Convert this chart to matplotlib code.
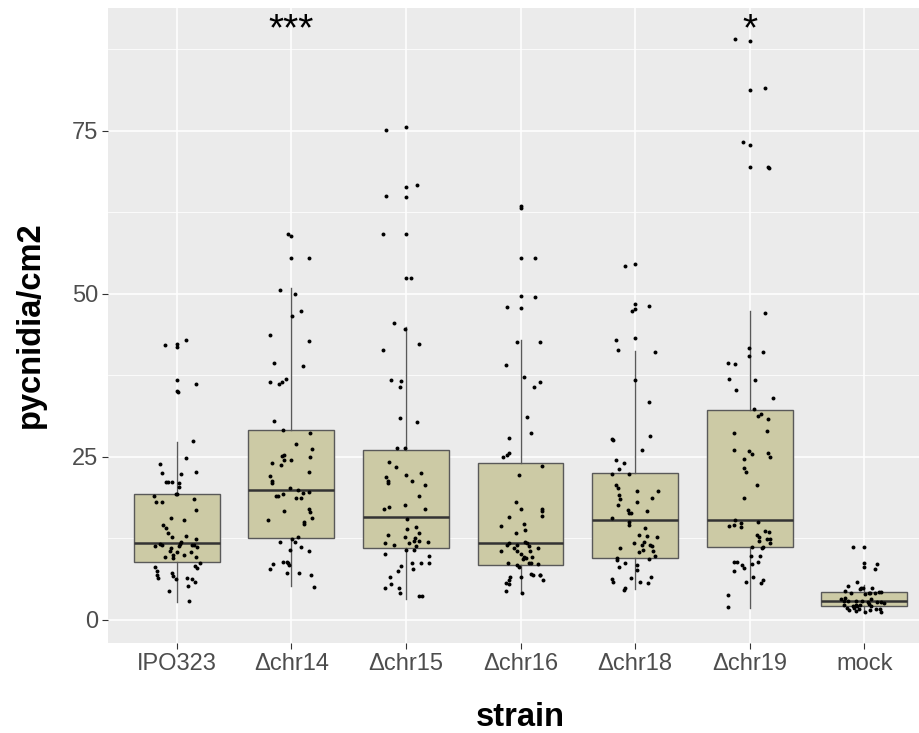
import matplotlib
matplotlib.use("Agg")
import matplotlib.pyplot as plt
from matplotlib.ticker import MultipleLocator

plt.rcParams["font.family"] = ["Liberation Sans", "DejaVu Sans"]

# strain names on the x axis
strains = ["IPO323", "\u0394chr14", "\u0394chr15", "\u0394chr16", "\u0394chr18", "\u0394chr19", "mock"]

# box statistics (lower whisker, Q1, median, Q3, upper whisker)
whis_lo = [2.7, 5.2, 3.2, 4.1, 4.7, 1.7, 1.3]
q1 = [8.8, 12.5, 10.9, 8.4, 9.5, 11.2, 2.1]
median = [11.7, 19.9, 15.7, 11.8, 15.2, 15.2, 2.85]
q3 = [19.3, 29.1, 26.0, 24.0, 22.4, 32.1, 4.2]
whis_hi = [27.2, 50.8, 44.9, 42.8, 41.2, 47.3, 5.3]

# significance marks above the boxes
stars = ["", "***", "", "", "", "*", ""]

# jittered points: horizontal offset from the strain centre and pycnidia/cm2 value
ipo_dx = [-0.105, 0.0, 0.0, 0.08, 0.0, 0.0, 0.01, 0.17, 0.14, 0.08, -0.15, -0.13, 0.04, 0.17,
          -0.09, -0.08, -0.04, 0.02, 0.02, -0.01, 0.0, -0.2, -0.18, -0.13, 0.15, 0.17, -0.05, 0.06,
          -0.12, -0.09, -0.08, -0.04, 0.08, 0.17, -0.19, -0.15, -0.13, 0.04, 0.03, 0.02, 0.15, 0.13,
          0.18, -0.05, -0.06, 0.0, 0.12, -0.03, -0.03, -0.1, 0.06, 0.17, 0.2, 0.16, 0.18, -0.19,
          -0.17, -0.17, -0.16, -0.04, -0.03, -0.01, 0.09, 0.13, 0.1, 0.16, -0.07, 0.11]
ipo_y = [42.1, 42.3, 41.8, 42.8, 36.7, 35.0, 34.9, 36.2, 27.4, 24.7, 23.9, 22.5, 22.3, 22.6,
         21.1, 21.1, 21.1, 20.9, 20.4, 19.3, 19.2, 18.9, 18.1, 18.0, 18.5, 16.8, 15.5, 15.3,
         14.5, 14.0, 13.2, 12.6, 12.8, 12.3, 11.3, 11.6, 11.5, 11.9, 11.6, 11.3, 11.5, 11.4,
         11.2, 11.0, 10.5, 10.3, 10.4, 9.9, 9.5, 9.6, 9.9, 9.6, 8.7, 8.2, 7.9, 8.0,
         7.4, 6.8, 6.3, 7.2, 6.7, 6.2, 6.4, 6.2, 5.1, 5.7, 4.3, 2.9]

chr14_dx = [-0.03, 0.0, 0.0, 0.15, -0.1, 0.03, 0.08, 0.01, -0.19, 0.15, -0.15, 0.1, -0.19, -0.11,
            -0.08, -0.05, -0.15, -0.07, 0.16, 0.04, 0.18, -0.17, -0.08, -0.06, -0.06, 0.0, 0.16,
            -0.09, 0.15, -0.19, -0.17, -0.17, -0.01, 0.06, 0.1, 0.15, -0.13, -0.12, -0.07, 0.04,
            0.08, 0.15, 0.16, 0.18, 0.11, 0.11, -0.2, -0.06, -0.1, 0.01, 0.03, 0.06, 0.08, 0.15,
            -0.01, -0.16, -0.19, -0.07, -0.04, -0.03, -0.02, -0.04, 0.07, 0.17, 0.2]
chr14_y = [59.1, 58.9, 55.4, 55.5, 50.6, 50.0, 47.3, 46.6, 43.6, 42.7, 39.4, 38.9, 36.4, 36.1,
           36.4, 36.9, 30.4, 29.1, 28.6, 26.9, 26.1, 24.0, 25.1, 25.3, 24.4, 24.4, 25.0,
           23.7, 22.7, 22.0, 21.2, 21.0, 20.2, 19.9, 19.4, 19.6, 19.0, 19.0, 19.2, 18.7,
           18.6, 16.9, 16.5, 15.5, 14.9, 14.7, 15.3, 16.6, 11.9, 12.3, 11.9, 12.6, 11.1, 10.5,
           10.7, 8.5, 7.7, 8.8, 8.8, 8.6, 8.4, 7.1, 7.2, 6.9, 5.0]

chr15_dx = [-0.17, 0.0, 0.0, 0.1, -0.17, 0.0, -0.2, 0.0, 0.0, 0.04, -0.1, -0.01, 0.11, -0.2,
            -0.13, -0.04, -0.05, -0.05, 0.1, -0.08, -0.01, -0.15, -0.09, -0.17, -0.16, -0.16, 0.0,
            0.05, 0.13, 0.17, 0.11, -0.19, -0.15, -0.01, 0.17, 0.01, 0.01, 0.09, 0.11, -0.16,
            -0.18, -0.1, -0.01, 0.03, 0.07, 0.08, 0.11, 0.09, 0.07, 0.19, 0.0, -0.18, 0.2, 0.13,
            0.2, 0.05, 0.06, -0.04, -0.07, -0.14, -0.13, -0.18, -0.06, -0.05, 0.11, 0.14]
chr15_y = [75.1, 75.6, 66.4, 66.7, 64.9, 64.8, 59.1, 59.2, 52.4, 52.4, 45.5, 44.5, 42.3, 41.3,
           36.8, 36.6, 35.6, 30.9, 30.3, 26.3, 26.3, 24.2, 23.4, 21.8, 21.2, 20.9, 22.1,
           21.2, 22.4, 20.6, 19.0, 17.0, 17.3, 17.5, 17.0, 15.4, 13.9, 14.2, 13.3, 12.9,
           11.8, 11.5, 12.6, 11.7, 12.1, 12.5, 12.1, 11.3, 10.7, 11.9, 10.7, 10.0, 9.8, 8.7,
           8.7, 8.6, 7.7, 8.2, 7.5, 6.5, 5.5, 4.8, 4.8, 4.1, 3.6, 3.6]

chr16_dx = [0.0, 0.0, 0.0, 0.13, 0.0, 0.13, -0.12, 0.0, -0.03, 0.17, -0.13, 0.03, 0.17, 0.12,
            0.06, 0.09, -0.1, -0.1, -0.12, -0.15, 0.19, -0.01, -0.04, 0.0, -0.1, 0.19, 0.19,
            0.19, 0.03, 0.04, -0.17, -0.04, 0.04, 0.06, -0.1, -0.12, -0.03, 0.07, 0.15, -0.06,
            -0.17, -0.03, 0.0, 0.08, 0.03, 0.02, 0.05, 0.1, -0.11, -0.03, -0.01, 0.07, 0.09,
            0.15, 0.0, -0.09, -0.1, -0.13, -0.1, 0.09, 0.11, 0.17, 0.17, 0.2, -0.13, 0.01]
chr16_y = [63.4, 63.1, 55.4, 55.5, 49.7, 49.4, 48.0, 47.8, 42.6, 42.6, 39.0, 37.2, 36.5, 35.6,
           31.0, 28.6, 27.8, 25.6, 25.3, 25.0, 23.5, 22.1, 18.1, 17.0, 15.7, 16.9, 16.7,
           15.9, 14.6, 13.8, 14.3, 13.3, 11.9, 11.7, 11.7, 11.4, 11.4, 11.3, 11.0, 10.9,
           10.5, 10.5, 10.0, 10.5, 9.6, 9.3, 9.5, 9.6, 8.6, 8.4, 8.0, 8.6, 8.6,
           8.5, 6.6, 6.5, 6.0, 5.6, 5.5, 7.0, 6.9, 6.9, 6.8, 6.0, 4.3, 4.1]

chr18_dx = [-0.09, 0.0, -0.03, 0.0, 0.0, 0.12, -0.17, -0.15, 0.0, 0.17, 0.0, 0.12, -0.2, -0.19,
            0.13, 0.06, -0.17, -0.1, -0.14, -0.2, -0.05, -0.17, -0.15, -0.14, -0.13, 0.02, 0.2,
            0.15, -0.15, 0.02, -0.06, -0.05, -0.04, 0.1, -0.2, -0.05, -0.05, 0.09, -0.13, 0.19,
            0.03, 0.1, -0.01, 0.08, 0.06, 0.13, 0.15, 0.03, 0.07, 0.16, 0.17, 0.12, -0.16,
            -0.16, -0.09, 0.02, 0.02, -0.14, -0.04, 0.14, -0.2, -0.19, 0.04, 0.11, -0.09, -0.1]
chr18_y = [54.3, 54.6, 47.3, 47.7, 48.4, 48.1, 42.8, 41.4, 43.2, 41.1, 36.7, 33.4, 27.7, 27.6,
           28.2, 26.0, 24.4, 24.0, 23.1, 22.3, 22.3, 20.7, 20.1, 19.1, 18.5, 19.7, 19.7,
           18.7, 17.5, 18.1, 16.8, 16.3, 16.3, 16.6, 15.5, 15.0, 14.5, 14.1, 11.0, 12.6,
           12.9, 12.8, 11.8, 11.9, 11.4, 11.5, 11.3, 10.4, 10.6, 10.5, 9.7, 9.3, 9.4,
           9.1, 8.6, 8.3, 7.6, 8.1, 6.4, 6.5, 6.2, 5.7, 5.8, 5.6, 4.9, 4.5]

chr19_dx = [-0.13, 0.0, 0.0, 0.13, -0.06, 0.0, 0.0, 0.16, 0.17, 0.13, -0.01, 0.12, -0.01, -0.19,
            -0.13, -0.18, 0.05, -0.12, 0.2, 0.04, 0.1, 0.07, 0.16, 0.15, -0.14, -0.14, -0.01,
            0.02, 0.16, 0.18, -0.05, -0.05, -0.03, 0.06, -0.05, -0.13, -0.14, -0.18, -0.08,
            -0.08, 0.07, 0.13, 0.17, 0.06, 0.08, 0.15, 0.18, 0.08, 0.18, 0.12, 0.11, 0.02,
            0.01, 0.09, -0.14, -0.11, -0.07, -0.05, -0.14, 0.02, 0.07, 0.03, 0.12, 0.1, -0.03,
            -0.19, -0.19]
chr19_y = [89.1, 88.8, 81.2, 81.6, 73.2, 72.8, 69.4, 69.4, 69.3, 47.0, 41.6, 41.1, 40.4, 39.3,
           39.2, 36.9, 36.7, 35.2, 34.0, 32.3, 31.5, 31.2, 30.8, 28.9, 28.6, 26.0, 25.9,
           25.4, 25.5, 24.9, 24.6, 23.2, 22.7, 20.7, 18.7, 15.2, 14.5, 14.3, 14.8,
           14.2, 14.9, 13.6, 13.5, 12.9, 12.6, 12.3, 12.4, 12.1, 11.8, 11.2, 11.0, 11.2,
           9.8, 9.8, 8.8, 8.8, 8.4, 7.9, 7.5, 8.5, 8.8, 6.5, 6.1, 5.6, 5.8,
           3.7, 1.9]

mock_dx = [-0.1, 0.0, 0.0, 0.0, 0.11, 0.09, -0.06, -0.14, -0.04, -0.03, -0.01, 0.07, -0.17,
           -0.12, 0.01, 0.04, 0.05, 0.09, 0.13, 0.15, -0.17, -0.2, -0.18, -0.14, -0.07, -0.02,
           0.03, 0.06, 0.11, 0.15, 0.17, -0.18, -0.1, -0.07, -0.06, -0.04, 0.04, 0.06, -0.15,
           -0.13, -0.09, -0.07, -0.05, 0.01, 0.05, 0.1, 0.14, 0.15]
mock_y = [11.2, 11.2, 8.6, 8.0, 8.5, 7.8, 5.7, 5.1, 4.7, 4.8, 4.9, 4.8, 4.4,
          4.0, 3.9, 4.0, 4.1, 4.0, 4.2, 4.2, 3.3, 3.1, 2.9, 2.9, 2.9, 2.9,
          2.75, 3.1, 2.7, 2.65, 2.6, 2.3, 2.1, 2.3, 2.1, 2.2, 2.45, 2.0, 1.8,
          1.4, 1.8, 1.3, 1.6, 1.2, 1.4, 1.6, 1.6, 1.2]

point_dx = [ipo_dx, chr14_dx, chr15_dx, chr16_dx, chr18_dx, chr19_dx, mock_dx]
point_y = [ipo_y, chr14_y, chr15_y, chr16_y, chr18_y, chr19_y, mock_y]

fig = plt.figure(figsize=(9.2, 7.33), dpi=100)
# panel runs a bit past the right edge, like the cropped original
ax = fig.add_axes([108 / 920, 1 - 643 / 733, 825 / 920, 635 / 733])
ax.set_facecolor("#EBEBEB")

positions = list(range(1, len(strains) + 1))

# boxes from the read statistics
stats = []
for i in range(len(strains)):
    stats.append({"whislo": whis_lo[i], "q1": q1[i], "med": median[i],
                  "q3": q3[i], "whishi": whis_hi[i], "fliers": []})
edge = "#595959"
ax.bxp(stats, positions=positions, widths=0.75, patch_artist=True,
       showcaps=False, showfliers=False,
       boxprops=dict(facecolor="#CCCAA5", edgecolor=edge, linewidth=1.0),
       whiskerprops=dict(color=edge, linewidth=1.0),
       medianprops=dict(color="#333333", linewidth=1.8),
       zorder=2)

# jittered data points
for i in range(len(strains)):
    xs = [positions[i] + d for d in point_dx[i]]
    ax.scatter(xs, point_y[i], s=8, color="black", linewidths=0, zorder=3)

# significance stars
for i, s in enumerate(stars):
    if s:
        ax.text(positions[i], 88.9, s, ha="center", va="baseline",
                fontsize=28, color="black", zorder=4)

ax.set_xlim(0.4, 7.6)
ax.set_ylim(-3.6, 93.8)
ax.set_xticks(positions)
ax.set_xticklabels(strains)
ax.yaxis.set_major_locator(MultipleLocator(25))
ax.yaxis.set_minor_locator(MultipleLocator(12.5))
ax.grid(which="major", color="white", linewidth=1.1, zorder=0)
ax.grid(which="minor", axis="y", color="white", linewidth=0.55, zorder=0)
ax.set_axisbelow(True)
for sp in ax.spines.values():
    sp.set_visible(False)
ax.tick_params(axis="both", which="major", length=4, width=0.8, color="#333333",
               labelsize=17, labelcolor="#4D4D4D", pad=3)
ax.tick_params(axis="y", which="minor", length=0)

fig.text(520 / 920, 1 - 726 / 733, "strain", ha="center", va="baseline",
         fontsize=23.5, fontweight="bold")
fig.text(30 / 920, 1 - 325 / 733, "pycnidia/cm2", ha="center", va="center",
         rotation=90, fontsize=23.5, fontweight="bold")

fig.savefig("out.png", dpi=100)
